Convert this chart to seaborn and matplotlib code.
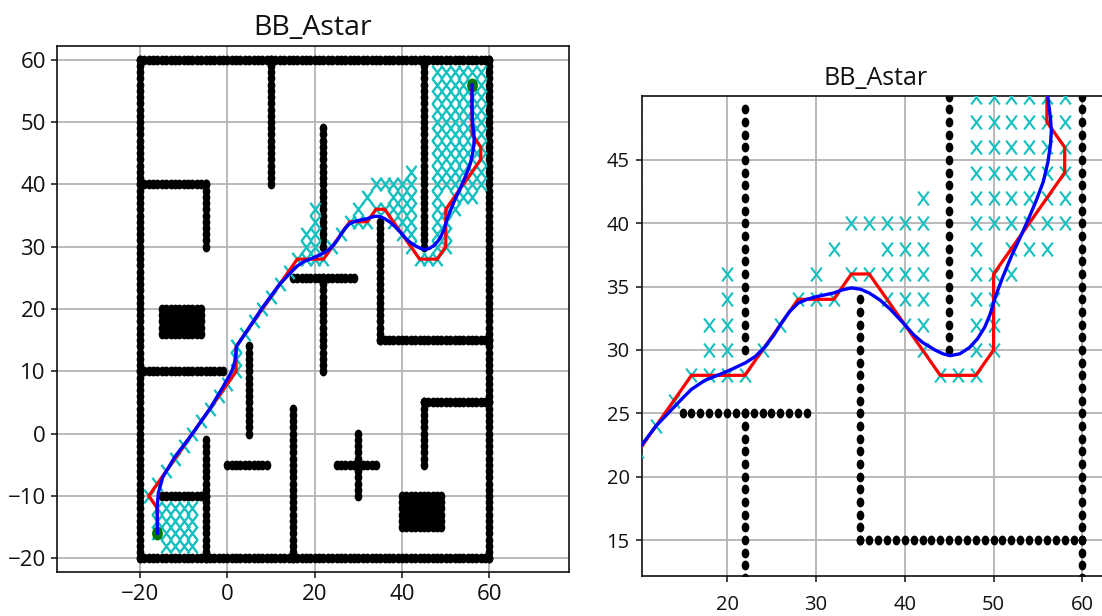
import numpy as np
import pandas as pd
import seaborn as sns
import matplotlib
matplotlib.use("Agg")
import matplotlib.pyplot as plt
from matplotlib.path import Path

title = "BB_Astar"
tick_vals_x = [-20, 0, 20, 40, 60]
tick_vals_y = [-20, -10, 0, 10, 20, 30, 40, 50, 60]
zoom_ticks_x = [20, 30, 40, 50, 60]
zoom_ticks_y = [15, 20, 25, 30, 35, 40, 45]

# obstacle walls: (x0, x1, y0, y1), one cell per unit
walls = [(-20, 60, 60, 60), (-20, 60, -20, -20), (-20, -20, -20, 60), (60, 60, -20, 60),
         (10, 10, 40, 60), (-20, -5, 40, 40), (-5, -5, 30, 40), (22, 22, 30, 49),
         (22, 22, 10, 25), (15, 29, 25, 25), (35, 35, 15, 34), (35, 60, 15, 15),
         (45, 45, 30, 60), (-20, -1, 10, 10), (5, 5, 0, 14), (-5, -5, -20, -1),
         (-15, -5, -10, -10), (0, 9, -5, -5), (15, 15, -20, 4), (25, 34, -5, -5),
         (30, 30, -10, 0), (45, 60, 5, 5), (45, 45, -5, 5),
         (-15, -6, 16, 20), (40, 49, -15, -10)]

visited_x = [-14, -12, -10, -8, -16, -14, -12, -10, -8, -16, -14, -12, -10, -8, -16, -14, -12, -10, -8,
             -18, -16, -14, -12, -10, -8, -6, -4, -2, 0, 2, 2, 2, 4, 6, 8, 10, 12, 14,
             16, 18, 20, 22, 44, 46, 48,
             18, 20, 24, 42, 48, 50,
             18, 20, 26, 40, 42, 48, 50,
             20, 28, 30, 32, 38, 40, 42, 48, 50,
             20, 30, 34, 36, 38, 40, 42, 48, 50, 52,
             32, 38, 40, 42, 48, 52, 54, 56,
             34, 36, 38, 40, 42, 48, 50, 52, 54, 56, 58,
             42, 48, 50, 52, 54, 56, 58,
             48, 50, 52, 54, 56, 58, 48, 50, 52, 54, 56, 58, 48, 50, 52, 54, 56, 58,
             48, 50, 52, 54, 56, 58, 48, 50, 52, 54, 56, 58, 48, 50, 52, 54, 56, 58,
             48, 50, 52, 54, 56, 58, 48, 50, 52, 54, 56, 58]
visited_y = [-18, -18, -18, -18, -16, -16, -16, -16, -16, -14, -14, -14, -14, -14, -12, -12, -12, -12, -12,
             -10, -8, -6, -4, -2, 0, 2, 4, 6, 8, 10, 12, 14, 16, 18, 20, 22, 24, 26,
             28, 28, 28, 28, 28, 28, 28,
             30, 30, 30, 30, 30, 30,
             32, 32, 32, 32, 32, 32, 32,
             34, 34, 34, 34, 34, 34, 34, 34, 34,
             36, 36, 36, 36, 36, 36, 36, 36, 36, 36,
             38, 38, 38, 38, 38, 38, 38, 38,
             40, 40, 40, 40, 40, 40, 40, 40, 40, 40, 40,
             42, 42, 42, 42, 42, 42, 42,
             44, 44, 44, 44, 44, 44, 46, 46, 46, 46, 46, 46, 48, 48, 48, 48, 48, 48,
             50, 50, 50, 50, 50, 50, 52, 52, 52, 52, 52, 52, 54, 54, 54, 54, 54, 54,
             56, 56, 56, 56, 56, 56, 58, 58, 58, 58, 58, 58]

route_x = [-16, -16, -18, 2, 2, 16, 22, 28, 32, 34, 36, 44, 48, 50, 50, 58, 58, 56, 56]
route_y = [-16, -12, -10, 10, 14, 28, 28, 34, 34, 36, 36, 28, 28, 30, 36, 44, 46, 48, 56]

smooth_x = [-16, -16.1, -15.8, -14.8, -12, -8, -4, -1, 1, 1.6, 1.9, 2.1, 4, 8, 10.4, 12, 13.5, 15, 16, 17.5,
            19.1, 20.6, 22.1, 23.2, 24.2, 25.2, 26.1, 27, 28, 29, 30, 31, 32, 33, 34, 35, 36, 37.2, 38.4, 39.2, 40, 41, 42,
            43.4, 44.3, 45.1, 46.2, 47.3, 48.2, 49, 49.6, 50.2, 51, 52, 53, 53.9, 54.8, 55.6, 56.1, 56.4, 56.5, 56.4, 56.1, 56, 56]
smooth_y = [-16, -12, -9.5, -7, -3.7, 0, 4, 7.5, 10, 11.2, 12.5, 14, 16, 20.2, 22.5, 24, 25.1, 26.2, 26.9, 27.6,
            28.05, 28.5, 29, 29.5, 30.2, 31.1, 32.1, 33, 33.7, 34, 34.2, 34.35, 34.5, 34.75, 34.9, 34.8, 34.5, 33.95, 33.2, 32.6, 32, 31.2, 30.6,
            30, 29.7, 29.55, 29.7, 30.2, 30.9, 31.8, 32.8, 34.2, 35.7, 37.4, 38.9, 40.3, 41.8, 43.3, 44.8, 46.2, 47.3, 48.3, 50, 52, 56]

start_goal_x = [-16, 56]
start_goal_y = [-16, 56]

sns.set_theme(style="ticks", rc={
    "axes.grid": True, "grid.color": "#b4b4b4", "grid.linewidth": 1.3,
    "axes.edgecolor": "#111111", "axes.linewidth": 1.2,
    "xtick.color": "#111111", "ytick.color": "#111111", "text.color": "#111111",
    "xtick.major.size": 4, "ytick.major.size": 4, "xtick.major.width": 1.1, "ytick.major.width": 1.1,
})
plt.rcParams["font.family"] = ["Open Sans", "DejaVu Sans"]

# the source picture is squeezed sideways: marks are taller than wide
circle = Path.unit_circle()
dot_marker = Path(circle.vertices * [0.78, 1.0], circle.codes)
cross_marker = Path([(-0.77, -1), (0.77, 1), (-0.77, 1), (0.77, -1)],
                    [Path.MOVETO, Path.LINETO, Path.MOVETO, Path.LINETO])

wx, wy = [], []
for x0, x1, y0, y1 in walls:
    gx, gy = np.meshgrid(np.arange(x0, x1 + 1), np.arange(y0, y1 + 1))
    wx.extend(gx.ravel().tolist())
    wy.extend(gy.ravel().tolist())
walls_df = pd.DataFrame({"x": wx, "y": wy})
visited_df = pd.DataFrame({"x": visited_x, "y": visited_y})
route_df = pd.DataFrame({"x": route_x, "y": route_y})
smooth_df = pd.DataFrame({"x": smooth_x, "y": smooth_y})
ends_df = pd.DataFrame({"x": start_goal_x, "y": start_goal_y})


def draw(ax, cross_s, dot_s, cross_lw):
    sns.scatterplot(data=walls_df, x="x", y="y", ax=ax, marker=dot_marker, s=dot_s,
                    color="black", edgecolor="black", linewidth=0, zorder=2)
    sns.scatterplot(data=visited_df, x="x", y="y", ax=ax, marker=cross_marker, s=cross_s,
                    color="#14bfc0", edgecolor="#14bfc0", linewidth=cross_lw, zorder=3)
    sns.scatterplot(data=ends_df, x="x", y="y", ax=ax, marker=dot_marker, s=dot_s * 2.0,
                    color="#007a00", edgecolor="#007a00", linewidth=0, zorder=4)
    sns.lineplot(data=route_df, x="x", y="y", ax=ax, sort=False, estimator=None,
                 color="red", linewidth=2.3, zorder=5)
    sns.lineplot(data=smooth_df, x="x", y="y", ax=ax, sort=False, estimator=None,
                 color="blue", linewidth=2.4, zorder=6)
    ax.set_xlabel("")
    ax.set_ylabel("")


W, H = 1102, 616
fig = plt.figure(figsize=(W / 100, H / 100), dpi=100)


def axes_px(l, t, r, b):
    return fig.add_axes([l / W, 1 - b / H, (r - l) / W, (b - t) / H])


ax1 = axes_px(57, 46, 569, 572)
draw(ax1, 92, 50, 1.7)
ax1.set_xlim(-39.0, 78.2)
ax1.set_ylim(-22.2, 62.2)
ax1.set_xticks(tick_vals_x)
ax1.set_yticks(tick_vals_y)
ax1.tick_params(labelsize=16)
ax1.tick_params(axis="x", pad=5)
ax1.tick_params(axis="y", pad=4)
ax1.set_title(title, fontsize=20.5, pad=8)

ax2 = axes_px(642, 96, 1110, 576)
draw(ax2, 100, 50, 1.5)
ax2.set_xlim(10.43, 63.1)
ax2.set_ylim(12.16, 50.05)
ax2.set_xticks(zoom_ticks_x)
ax2.set_yticks(zoom_ticks_y)
ax2.tick_params(labelsize=14.5)
ax2.tick_params(axis="x", pad=10)
ax2.tick_params(axis="y", pad=5)
ax2.set_title(title, fontsize=18, pad=8)

fig.savefig("out.png", dpi=100)
